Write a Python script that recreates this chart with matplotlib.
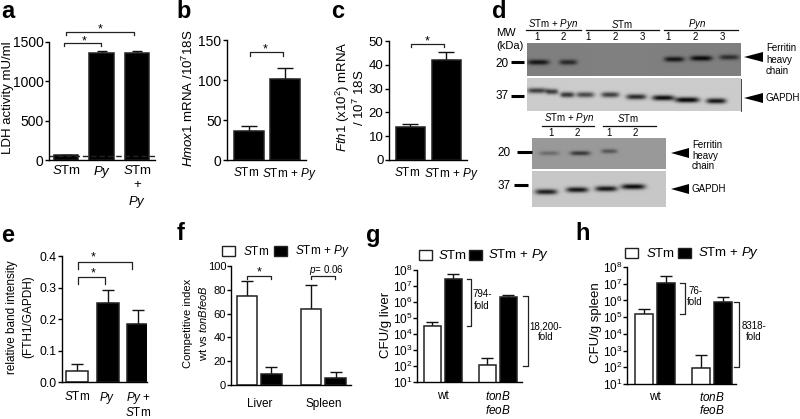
import matplotlib
matplotlib.use("Agg")
import matplotlib.pyplot as plt
import numpy as np
from matplotlib.patches import Polygon, Rectangle
from matplotlib.ticker import NullLocator
from matplotlib.transforms import ScaledTranslation

plt.rcParams["font.family"] = ["Liberation Sans", "DejaVu Sans"]
plt.rcParams["mathtext.fontset"] = "custom"
plt.rcParams["mathtext.rm"] = "Liberation Sans"
plt.rcParams["mathtext.it"] = "Liberation Sans:italic"
plt.rcParams["mathtext.default"] = "rm"
plt.rcParams["axes.linewidth"] = 1.0

W, H = 800, 419

STM = r"$\mathit{S}$Tm"
STM_PY = r"$\mathit{S}$Tm + $\mathit{Py}$"
STM_PYN = r"$\mathit{S}$Tm + $\mathit{Pyn}$"
PY = r"$\mathit{Py}$"

# a
a_labels = [STM, PY, STM + "\n+\n" + PY]
a_values = [60, 1365, 1360]
a_tops = [68, 1390, 1380]
a_baseline = 55

# b
b_labels = [STM, STM_PY]
b_values = [36, 101]
b_tops = [42.5, 115]

# c
c_labels = [STM, STM_PY]
c_values = [13.7, 42]
c_tops = [15, 45.3]

# e
e_labels = [STM, PY, PY + " +\n" + STM]
e_values = [0.035, 0.25, 0.185]
e_tops = [0.056, 0.292, 0.23]

# f, g, h share two groups of (STm, STm + Py)
f_groups = ["Liver", "Spleen"]
f_stm = [75, 64]
f_stm_tops = [87, 84]
f_py = [9.5, 6]
f_py_tops = [15, 11]

cfu_groups = ["wt", r"$\mathit{tonB}$" + "\n" + r"$\mathit{feoB}$"]
g_stm = [3.2e4, 1.1e2]
g_stm_tops = [6e4, 3e2]
g_py = [2.7e7, 2e6]
g_py_tops = [5.5e7, 2.8e6]

h_stm = [1.55e5, 9e1]
h_stm_tops = [3e5, 5.5e2]
h_py = [1.15e7, 8e5]
h_py_tops = [3e7, 1.6e6]

# blots: band centre x, centre y, half length, darkness
blot1_bands = [(538, 62, 11, .85), (568, 62, 9, .7), (674, 59, 10, .85),
               (701, 58, 11, .95), (729, 57, 10, .65)]
blot2_bands = [(537, 91, 10, .7), (552, 92, 6, .7), (567, 95, 7, .75), (585, 95, 9, .65),
               (610, 95, 9, .7), (636, 97, 10, .8), (663, 98, 11, .95),
               (687, 100, 12, 1.0), (716, 101, 10, .9)]
blot3_bands = [(549, 153, 10, .3), (580, 153, 10, .65), (609, 151, 8, .45)]
blot4_bands = [(546, 192, 11, .85), (577, 190, 11, .9), (606, 189, 11, .9), (633, 187, 12, .95)]


fig = plt.figure(figsize=(W / 100, H / 100), dpi=100)


def make_axes(left, right, y0, ytop):
    ax = fig.add_axes([left / W, 1 - y0 / H, (right - left) / W, (y0 - ytop) / H])
    ax.patch.set_alpha(0)
    ax.spines["top"].set_visible(False)
    ax.spines["right"].set_visible(False)
    return ax


def draw_bars(ax, x, values, tops, width, color, capsize):
    ax.bar(x, values, width, color=color, edgecolor="#222222", linewidth=1.1, zorder=2)
    upper = np.array(tops) - np.array(values)
    ax.errorbar(x, values, yerr=[np.zeros(len(upper)), upper], fmt="none", ecolor="#111111",
                elinewidth=1.0, capsize=capsize, capthick=1.0, zorder=1)


def simple_panel(box, labels, values, tops, colors, ylim, yticks, yticklabels, xlim,
                 width, size, label_size, capsize, pad=3, spacing=1.25):
    ax = make_axes(*box)
    x = np.arange(len(values))
    draw_bars(ax, x, values, tops, width, colors, capsize)
    ax.set_xlim(*xlim)
    ax.set_ylim(*ylim)
    ax.set_yticks(yticks)
    ax.set_yticklabels(yticklabels, fontsize=size)
    ax.set_xticks(x)
    ax.set_xticklabels(labels, fontsize=label_size, linespacing=spacing)
    ax.tick_params(axis="x", length=0, pad=pad)
    ax.tick_params(axis="y", length=3, width=1.0, pad=1)
    return ax


def group_panel(box, groups, stm, stm_tops, py, py_tops, xlim, offset, width, size,
                label_size, capsize, pad=9, log=False):
    ax = make_axes(*box)
    x = np.arange(len(groups))
    draw_bars(ax, x - offset, stm, stm_tops, width, "white", capsize)
    draw_bars(ax, x + offset, py, py_tops, width, "black", capsize)
    ax.set_xlim(*xlim)
    ax.set_xticks(x)
    ax.set_xticklabels(groups, fontsize=label_size, linespacing=1.05)
    ax.tick_params(axis="x", length=0, pad=pad)
    ax.tick_params(axis="y", length=3, width=1.0, pad=0.5, labelsize=size)
    if log:
        ax.set_yscale("log")
        ax.set_ylim(1e1, 1e8)
        ax.set_yticks([10.0 ** n for n in range(1, 9)])
        ax.yaxis.set_minor_locator(NullLocator())
    return ax


def nudge_labels(ax, shifts):
    # the long label would run into its neighbour if centred under the bar
    for label, dx in zip(ax.get_xticklabels(), shifts):
        label.set_transform(label.get_transform()
                            + ScaledTranslation(dx / 100, 0, fig.dpi_scale_trans))


ax_a = simple_panel((49, 155, 160, 42), a_labels, a_values, a_tops, "black", (0, 1500),
                    [0, 500, 1000, 1500], ["0", "500", "1000", "1500"], (-0.48, 2.5),
                    0.69, 10, 9.5, 3.5)
ax_a.axhline(a_baseline, color="#222222", lw=1.0, ls=(0, (4, 2)), zorder=3)

ax_b = simple_panel((227, 306, 160, 40), b_labels, b_values, b_tops, "black", (0, 150),
                    [0, 50, 100, 150], ["0", "50", "100", "150"], (-0.6, 1.59),
                    0.83, 10, 8.5, 5.5, pad=4)
nudge_labels(ax_b, [-3, 5])
ax_c = simple_panel((389, 467, 160, 41), c_labels, c_values, c_tops, "black", (0, 50),
                    [0, 10, 20, 30, 40, 50], ["0", "10", "20", "30", "40", "50"], (-0.6, 1.58),
                    0.81, 9.5, 8.5, 5.5, pad=4)
nudge_labels(ax_c, [-3, 5])
simple_panel((62, 147, 382, 256), e_labels, e_values, e_tops, ["white", "black", "black"],
             (0, 0.4), [0, 0.1, 0.2, 0.3, 0.4], ["0.0", "0.1", "0.2", "0.3", "0.4"],
             (-0.48, 2.28), 0.71, 8.8, 8.5, 4, pad=6, spacing=1.0)

ax_f = group_panel((231, 351, 385, 266), f_groups, f_stm, f_stm_tops, f_py, f_py_tops,
                   (-0.44, 1.43), 0.19, 0.32, 8, 8.5, 4.5)
ax_f.set_ylim(0, 100)
ax_f.set_yticks([0, 20, 40, 60, 80, 100])
group_panel((417, 522, 382, 270), cfu_groups, g_stm, g_stm_tops, g_py, g_py_tops,
            (-0.47, 1.44), 0.19, 0.31, 8.5, 8.5, 4.5, pad=6, log=True)
group_panel((627, 736, 384, 267), cfu_groups, h_stm, h_stm_tops, h_py, h_py_tops,
            (-0.49, 1.42), 0.195, 0.32, 8.5, 8.5, 4.5, pad=5, log=True)

# everything else is placed in pixel space on one overlay
over = fig.add_axes([0, 0, 1, 1], zorder=5)
over.patch.set_alpha(0)
over.axis("off")


def blot(left, right, top, bottom, base, bands, thick):
    yy, xx = np.mgrid[top:bottom:0.5, left:right:0.5]
    img = np.full(xx.shape, float(base))
    for cx, cy, half, dark in bands:
        shape = np.exp(-((xx - cx) / half) ** 4 - ((yy - cy) / thick) ** 2)
        img -= shape * dark * base
    over.imshow(np.clip(img, 0.05, 1), cmap="gray", vmin=0, vmax=1, aspect="auto",
                extent=(left, right, bottom, top), interpolation="bilinear")


blot(527, 741, 43, 76, 0.50, blot1_bands, 2.6)
blot(527, 741, 79, 111, 0.80, blot2_bands, 2.6)
blot(532, 666, 138, 169, 0.60, blot3_bands, 2.2)
blot(532, 666, 172, 207, 0.78, blot4_bands, 2.6)
over.plot([740.5, 740.5], [79, 111], color="#444444", lw=0.7)
over.set_xlim(0, W)
over.set_ylim(H, 0)


def txt(x, y, s, size=8, ha="center", rot=0, **kw):
    over.text(x, y, s, fontsize=size, ha=ha, va="center", rotation=rot, **kw)


def bracket(x1, x2, y, drop):
    over.plot([x1, x1, x2, x2], [y + drop, y, y, y + drop], color="#222222", lw=0.9)


def fold(x, y1, y2, tick):
    over.plot([x - tick, x, x, x - tick], [y1, y1, y2, y2], color="#222222", lw=0.9)


def arrowhead(tip, base, y):
    over.add_patch(Polygon([(tip, y), (base, y - 5), (base, y + 5)], color="black", lw=0))


def swatch(x, y, color):
    over.add_patch(Rectangle((x, y), 13, 9.5, facecolor=color, edgecolor="#222222", lw=1.0))


for letter, x, y in [("a", 8, 11), ("b", 184, 11), ("c", 338, 11), ("d", 499, 11),
                     ("e", 8, 235), ("f", 181, 233), ("g", 373, 235), ("h", 583, 233)]:
    txt(x, y, letter, size=17, weight="bold")

# axis titles
txt(8, 98, "LDH activity mU/ml", size=9.5, rot=90)
txt(188, 98, r"$\mathit{Hmox1}$ mRNA /10$^{7}$18S", size=9.5, rot=90)
txt(343, 97, r"$\mathit{Fth1}$ (x10$^{2}$) mRNA", size=9.5, rot=90)
txt(359, 98, r"/ 10$^{7}$ 18S", size=9.5, rot=90)
txt(12, 317, "relative band intensity", size=8.5, rot=90)
txt(28, 317, "(FTH1/GAPDH)", size=8.5, rot=90)
txt(188, 323, "Competitive index", size=8, rot=90)
txt(203, 323, r"wt vs $\mathit{tonBfeoB}$", size=8, rot=90)
txt(386, 325, "CFU/g liver", size=9.5, rot=90)
txt(596, 323, "CFU/g spleen", size=9.5, rot=90)

# significance brackets
bracket(64, 101, 43, 3)
txt(84, 41, "*", size=9)
bracket(66, 134, 32, 3)
txt(100, 29, "*", size=9)
bracket(250, 283, 52, 4)
txt(265, 49, "*", size=9)
bracket(411, 444, 44, 3)
txt(427, 41, "*", size=9)
bracket(78, 105, 277, 7)
txt(93, 273, "*", size=9)
bracket(78, 132, 262, 7)
txt(93, 257, "*", size=9)
bracket(247, 271, 276, 3)
txt(259, 272, "*", size=9)
bracket(311, 335, 276, 3)
txt(326, 270, r"$\mathit{p}$= 0.06", size=7)

# fold change
fold(471, 279, 326, 4)
txt(482, 294, "794-", size=7)
txt(482, 306, "fold", size=7)
fold(528, 296, 366, 5)
txt(546, 326, "18,200-", size=7)
txt(546, 337, "fold", size=7)
fold(685, 283, 314, 5)
txt(688, 291, "76-", size=7, ha="left")
txt(687, 302, "fold", size=7, ha="left")
fold(739, 302, 367, 5)
txt(754, 326, "8318-", size=7)
txt(754, 337, "fold", size=7)

# legends
for x_white, x_black, y, x_t1, x_t2, size in [(222, 274, 246, 243, 295, 8.5),
                                               (419, 469, 250, 438, 488, 9.5),
                                               (625, 678, 248, 646, 698, 9.5)]:
    swatch(x_white, y, "white")
    swatch(x_black, y, "black")
    txt(x_t1, y + 5, STM, size=size, ha="left")
    txt(x_t2, y + 5, STM_PY, size=size, ha="left")

# blot annotations
txt(496, 33, "MW", size=8, ha="left")
txt(496, 46, "(kDa)", size=8, ha="left")
txt(502, 64, "20", size=8.5)
txt(502, 96, "37", size=8.5)
over.plot([511, 524], [62, 62], color="black", lw=2.2, solid_capstyle="butt")
over.plot([511, 524], [96, 96], color="black", lw=2.2, solid_capstyle="butt")
txt(504, 153, "20", size=8.5)
txt(504, 186, "37", size=8.5)
over.plot([517, 532], [152, 152], color="black", lw=2.2, solid_capstyle="butt")
over.plot([514, 528], [185, 185], color="black", lw=2.2, solid_capstyle="butt")

for label, center, x1, x2 in [(STM_PYN, 553, 526, 581), (STM, 622, 586, 659),
                              (r"$\mathit{Pyn}$", 697, 664, 738)]:
    txt(center, 24, label, size=7)
    over.plot([x1, x2], [30, 30], color="#111111", lw=0.9)
for num, x in zip("12123123", [537, 563, 588, 615, 642, 668, 695, 722]):
    txt(x, 37, num, size=7)
for label, center, x1, x2 in [(STM_PYN, 569, 542, 594), (STM, 628, 603, 656)]:
    txt(center, 118, label, size=7)
    over.plot([x1, x2], [126, 126], color="#111111", lw=0.9)
for num, x in zip("1212", [551, 577, 609, 635]):
    txt(x, 133, num, size=7)

arrowhead(744, 763, 57)
arrowhead(744, 763, 98)
arrowhead(671, 689, 153)
arrowhead(671, 689, 189)
for word, y in zip(["Ferritin", "heavy", "chain"], [48, 60, 71]):
    txt(766, y, word, size=7, ha="left")
txt(765, 98, "GAPDH", size=7, ha="left")
for word, y in zip(["Ferritin", "heavy", "chain"], [145, 156, 166]):
    txt(692, y, word, size=7, ha="left")
txt(692, 189, "GAPDH", size=7, ha="left")

fig.savefig("out.png", dpi=100)
